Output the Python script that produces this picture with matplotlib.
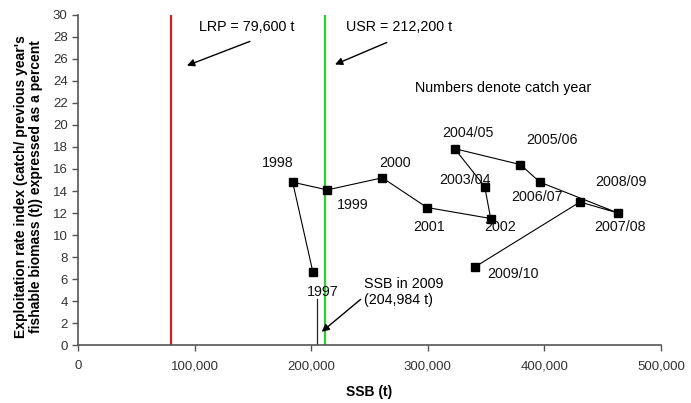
import matplotlib

matplotlib.use("Agg")
import matplotlib.pyplot as plt
from matplotlib.ticker import FuncFormatter

plt.rcParams["font.family"] = ["Liberation Sans", "DejaVu Sans"]

# catch years, SSB (t) and exploitation rate index (%)
YEARS = ["1997", "1998", "1999", "2000", "2001", "2002", "2003/04", "2004/05",
         "2005/06", "2006/07", "2007/08", "2008/09", "2009/10"]
SSB = [201500, 184100, 213800, 261000, 299300, 353900, 348800, 323000,
       379400, 396200, 463100, 430500, 340500]
EXPL = [6.6, 14.8, 14.1, 15.2, 12.5, 11.5, 14.4, 17.85, 16.4, 14.8, 12.0, 13.0, 7.1]

# where each year label sits (data units)
LABEL_POS = {
    "1997": (209900, 4.8), "1998": (171500, 16.5), "1999": (235900, 12.7),
    "2000": (271900, 16.5), "2001": (301000, 10.75), "2002": (361900, 10.75),
    "2003/04": (331900, 15.0), "2004/05": (334500, 19.25), "2005/06": (406200, 18.6),
    "2006/07": (393400, 13.5), "2007/08": (464800, 10.75), "2008/09": (465400, 14.85),
    "2009/10": (373300, 6.45),
}

LRP = 79600
USR = 212200
SSB_2009 = 204984

FS = 10.3

fig = plt.figure(figsize=(6.91, 4.03), dpi=100)
ax = fig.add_axes([0.1129, 0.1439, 0.8437, 0.8189])

ax.plot([LRP, LRP], [0, 30], color="#d42020", lw=1.6, zorder=2)
ax.plot([USR, USR], [0, 30], color="#33cc33", lw=1.6, zorder=2)
ax.plot([SSB_2009, SSB_2009], [0, 4.2], color="#222222", lw=0.9)

ax.plot(SSB, EXPL, color="black", lw=0.8, marker="s", ms=6, mfc="black", mec="black", zorder=3)

for yr in YEARS:
    lx, ly = LABEL_POS[yr]
    ax.text(lx, ly, yr, ha="center", va="center", fontsize=FS, color="#111111")

arrow = dict(arrowstyle="-|>", color="black", lw=1.0, mutation_scale=11, shrinkA=0, shrinkB=0)
ax.annotate("", xy=(93400, 25.4), xytext=(147400, 27.6), arrowprops=arrow)
ax.text(145000, 28.9, "LRP = 79,600 t", ha="center", va="center", fontsize=FS)
ax.annotate("", xy=(220400, 25.5), xytext=(264800, 27.5), arrowprops=arrow)
ax.text(230000, 28.9, "USR = 212,200 t", ha="left", va="center", fontsize=FS)
ax.text(289000, 23.4, "Numbers denote catch year", ha="left", va="center", fontsize=FS)
ax.annotate("", xy=(209000, 1.2), xytext=(242400, 4.15), arrowprops=arrow)
ax.text(245000, 4.85, "SSB in 2009\n(204,984 t)", ha="left", va="center", fontsize=FS,
        linespacing=1.2)

ax.set_xlim(0, 500000)
ax.set_ylim(0, 30)
ax.set_xticks(range(0, 500001, 100000))
ax.set_yticks(range(0, 31, 2))
ax.xaxis.set_major_formatter(FuncFormatter(lambda v, p: f"{int(v):,}"))
ax.tick_params(axis="both", direction="out", length=4, width=1, colors="#555555",
               labelcolor="#333333", labelsize=9.5)
ax.tick_params(axis="x", pad=7)
for side in ("top", "right"):
    ax.spines[side].set_visible(False)
for side in ("left", "bottom"):
    ax.spines[side].set_color("#555555")
    ax.spines[side].set_linewidth(1.2)

ax.set_xlabel("SSB (t)", fontsize=10, fontweight="bold", labelpad=9)
ax.set_ylabel("Exploitation rate index (catch/ previous year's\nfishable biomass (t)) expressed as a percent",
              fontsize=10, fontweight="bold", linespacing=1.1)
ax.yaxis.set_label_coords(-0.06, 0.48)

fig.savefig("out.png", dpi=100)
